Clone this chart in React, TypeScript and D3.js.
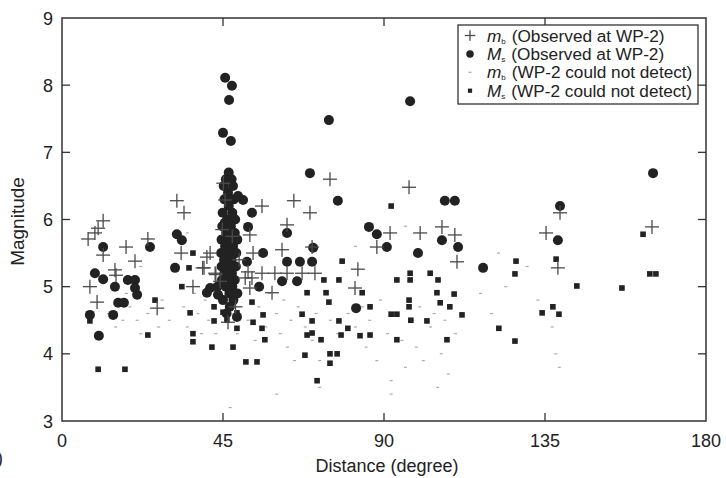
import React from "react";
import * as d3 from "d3";

const xTicks = [0, 45, 90, 135, 180];
const yTicks = [3, 4, 5, 6, 7, 8, 9];

// m_b observed at WP-2 (distance deg, magnitude)
const mbObserved: [number, number][] = [
  [7.3, 5.71], [9.2, 5.8], [10.1, 5.87], [11.5, 5.98], [32.1, 6.28], [34.1, 6.1],
  [17.9, 5.59], [24.0, 5.71], [20.4, 5.38], [14.8, 5.25], [15.1, 5.17], [7.8, 5.0],
  [9.8, 4.77], [26.6, 4.68], [36.6, 5.0], [33.3, 5.5], [39.7, 5.28], [41.4, 5.5],
  [42.8, 5.2], [11.5, 5.47], [55.9, 6.2], [64.8, 6.28], [69.3, 6.1], [62.9, 5.92],
  [53.4, 5.5], [61.5, 5.55], [69.9, 5.59], [52.0, 5.22], [55.9, 5.2], [59.5, 5.2],
  [58.7, 4.91], [62.9, 5.2], [67.1, 5.2], [70.7, 5.2], [74.9, 6.6], [97.0, 6.48],
  [91.7, 5.8], [88.0, 5.59], [100.1, 5.8], [106.2, 5.89], [109.8, 5.77], [110.4, 5.37],
  [82.7, 5.26], [81.9, 4.98], [139.2, 6.1], [135.3, 5.8], [164.9, 5.89], [138.6, 5.28],
  [45.1, 6.54], [40.5, 5.44], [39.3, 5.28], [52.5, 5.77], [51.2, 5.13], [53.1, 5.13],
  [52.5, 4.98], [43.0, 5.18], [46.4, 4.47], [45.6, 6.29], [47.6, 5.75], [44.8, 5.85],
  [49.5, 5.4], [44.2, 5.08], [48.5, 4.7],
];

// M_s observed at WP-2
const msObserved: [number, number][] = [
  [11.5, 5.59], [24.6, 5.59], [9.2, 5.2], [11.5, 5.11], [14.8, 5.0], [18.4, 5.1],
  [20.4, 5.1], [21.0, 4.88], [20.4, 4.98], [15.7, 4.76], [17.3, 4.76], [7.8, 4.58],
  [14.3, 4.58], [10.3, 4.27], [32.1, 5.78], [33.5, 5.69], [31.6, 5.28], [40.5, 4.91],
  [41.4, 4.98], [45.6, 8.11], [47.5, 7.99], [46.7, 7.78], [45.0, 7.29], [47.2, 7.17],
  [69.3, 6.69], [50.6, 6.29], [53.1, 6.1], [52.0, 5.89], [62.9, 5.8], [56.2, 5.5],
  [51.7, 5.37], [62.9, 5.37], [66.5, 5.37], [69.9, 5.37], [61.5, 5.08], [65.7, 5.08],
  [55.1, 5.0], [97.3, 7.76], [74.6, 7.48], [77.1, 6.28], [107.0, 6.28], [109.8, 6.28],
  [85.8, 5.89], [88.0, 5.78], [90.8, 5.59], [99.5, 5.5], [106.2, 5.69], [110.7, 5.59],
  [70.2, 5.58], [82.2, 4.68], [165.2, 6.69], [139.2, 6.2], [138.6, 5.69], [117.7, 5.28],
  [46.6, 6.7], [45.8, 6.6], [47.4, 6.6], [45.2, 6.5], [47.8, 6.5], [46.4, 6.4],
  [45.4, 6.3], [48.0, 6.3], [46.6, 6.2], [44.9, 6.1], [47.6, 6.1], [46.2, 6.0],
  [48.4, 6.0], [44.8, 5.9], [47.2, 5.9], [45.9, 5.8], [48.3, 5.8], [44.6, 5.7],
  [46.9, 5.7], [49.0, 5.7], [45.6, 5.6], [47.8, 5.6], [46.4, 5.5], [48.7, 5.5],
  [44.5, 5.5], [45.3, 5.4], [47.4, 5.4], [46.2, 5.3], [48.6, 5.3], [44.6, 5.3],
  [45.4, 5.2], [47.5, 5.2], [46.3, 5.1], [48.3, 5.1], [44.7, 5.1], [45.8, 5.0],
  [47.6, 5.0], [46.8, 4.9], [49.0, 4.9], [45.0, 4.8], [47.9, 4.8], [46.9, 4.7],
  [46.0, 4.6], [43.4, 5.0], [43.6, 4.88], [45.5, 5.95], [47.0, 5.45], [46.5, 5.05],
  [49.2, 6.35], [48.9, 4.55],
];

// m_b, WP-2 could not detect
const mbMissed: [number, number][] = [
  [13, 4.6], [15, 4.4], [17, 4.5], [19, 4.7], [21, 4.5], [22, 4.3], [18, 4.9], [24, 4.6],
  [27, 4.4], [28, 4.8], [30, 4.5], [34, 4.7], [35, 4.4], [37, 4.9], [38, 4.6], [39, 4.3],
  [40, 4.8], [41, 4.5], [43, 4.3], [44, 4.9], [49, 4.3], [50, 4.9], [52, 4.5], [54, 4.2],
  [55, 4.7], [57, 4.4], [58, 4.9], [60, 4.6], [61, 4.3], [62, 4.8], [63, 4.1], [64, 4.5],
  [65, 3.9], [66, 4.7], [68, 4.4], [70, 4.2], [71, 4.6], [72, 3.9], [75, 4.5], [77, 4.3],
  [80, 4.6], [82, 4.4], [84, 4.7], [85, 4.1], [86, 4.5], [88, 3.9], [89, 4.8], [91, 4.3],
  [92, 3.6], [94, 4.6], [95, 4.2], [96, 3.8], [98, 4.5], [99, 4.1], [100, 4.7], [101, 3.9],
  [103, 4.4], [104, 4.6], [106, 4.0], [107, 4.5], [108, 3.7], [110, 4.3], [112, 4.6],
  [117, 4.9], [120, 4.6], [124, 5.0], [133, 4.8], [137, 4.4], [138, 4.0], [139, 3.8],
  [47, 3.2], [60, 3.4], [72, 3.5], [92, 3.4], [105, 3.5], [22, 5.3], [35, 5.8], [82, 5.6],
  [96, 5.9], [122, 5.5], [130, 5.3],
];

// M_s, WP-2 could not detect
const msMissed: [number, number][] = [
  [7.8, 4.49], [24.0, 4.28], [26.0, 4.8], [10.1, 3.77], [17.6, 3.77], [36.6, 5.5],
  [35.5, 5.28], [33.5, 5.0], [35.8, 4.61], [36.6, 4.3], [36.6, 4.18], [41.9, 4.1],
  [42.5, 4.7], [42.5, 4.49], [45.0, 4.62], [68.5, 4.91], [53.1, 4.77], [56.2, 4.58],
  [48.9, 4.61], [46.1, 4.5], [53.4, 4.47], [48.9, 4.38], [55.9, 4.38], [67.1, 4.59],
  [68.5, 4.28], [69.9, 4.31], [56.7, 4.21], [47.8, 4.1], [67.9, 3.98], [51.4, 3.88],
  [54.5, 3.88], [71.3, 3.6], [92.0, 6.2], [78.3, 5.38], [73.2, 5.1], [77.4, 5.1],
  [73.8, 4.91], [74.6, 4.77], [83.9, 4.91], [86.1, 4.7], [93.6, 5.1], [97.3, 5.2],
  [97.3, 5.1], [102.9, 5.2], [105.1, 5.1], [104.8, 4.91], [109.6, 4.89], [105.7, 4.76],
  [108.4, 4.7], [97.0, 4.8], [97.0, 4.7], [92.0, 4.59], [93.6, 4.59], [97.5, 4.5],
  [102.0, 4.49], [111.8, 4.58], [69.9, 4.49], [77.4, 4.49], [79.9, 4.38], [78.0, 4.28],
  [83.3, 4.27], [86.1, 4.28], [72.4, 4.21], [93.6, 4.21], [107.6, 4.21], [74.9, 4.0],
  [76.9, 4.0], [74.9, 3.86], [162.4, 5.78], [164.3, 5.19], [166.0, 5.19], [126.9, 5.38],
  [126.6, 5.19], [138.1, 5.41], [143.9, 5.01], [156.5, 4.98], [137.2, 4.7], [134.2, 4.61],
  [138.9, 4.59], [122.1, 4.38], [126.6, 4.19],
];

const W = 726;
const H = 478;
const L = 62, R = 706, T = 18, B = 421;
const FONT = "'Liberation Sans', Arial, sans-serif";
const INK = "#222";

export default function App() {
  const x = d3.scaleLinear().domain([0, 180]).range([L, R]);
  const y = d3.scaleLinear().domain([3, 9]).range([B, T]);
  const tick = 8;

  const legendItems = [
    { sym: "plus", main: "m", sub: "b", text: "(Observed at WP-2)" },
    { sym: "circle", main: "M", sub: "s", text: "(Observed at WP-2)" },
    { sym: "dash", main: "m", sub: "b", text: "(WP-2 could not detect)" },
    { sym: "square", main: "M", sub: "s", text: "(WP-2 could not detect)" },
  ];

  const drawSym = (sym: string, cx: number, cy: number, key: string, s = 1) => {
    if (sym === "plus")
      return (
        <g key={key} stroke="#4a4a4a" strokeWidth={1.3}>
          <line x1={cx - 7 * s} x2={cx + 7 * s} y1={cy} y2={cy} />
          <line x1={cx} x2={cx} y1={cy - 7 * s} y2={cy + 7 * s} />
        </g>
      );
    if (sym === "circle") return <circle key={key} cx={cx} cy={cy} r={5 * s} fill={INK} />;
    if (sym === "square")
      return <rect key={key} x={cx - 2.8 * s} y={cy - 2.8 * s} width={5.6 * s} height={5.6 * s} fill={INK} />;
    return <rect key={key} x={cx - 1.5} y={cy - 0.6} width={3} height={1.2} fill="#aaa" />;
  };

  return (
    <svg
      width={W}
      height={H}
      style={{ position: "absolute", left: 0, top: 0, background: "#fff" }}
      fontFamily={FONT}
    >
      <rect x={0} y={0} width={W} height={H} fill="#fff" />
      {/* data */}
      {mbMissed.map((d, i) => drawSym("dash", x(d[0]), y(d[1]), "a" + i))}
      {msMissed.map((d, i) => drawSym("square", x(d[0]), y(d[1]), "b" + i))}
      {msObserved.map((d, i) => drawSym("circle", x(d[0]), y(d[1]), "c" + i))}
      {mbObserved.map((d, i) => drawSym("plus", x(d[0]), y(d[1]), "d" + i))}

      {/* frame */}
      <rect x={L} y={T} width={R - L} height={B - T} fill="none" stroke="#333" strokeWidth={1.5} />
      {xTicks.slice(1, -1).map((t) => (
        <g key={"xt" + t} stroke="#333" strokeWidth={1.3}>
          <line x1={x(t)} x2={x(t)} y1={B} y2={B - tick} />
          <line x1={x(t)} x2={x(t)} y1={T} y2={T + tick} />
        </g>
      ))}
      {yTicks.slice(1, -1).map((t) => (
        <g key={"yt" + t} stroke="#333" strokeWidth={1.3}>
          <line x1={L} x2={L + tick} y1={y(t)} y2={y(t)} />
          <line x1={R} x2={R - tick} y1={y(t)} y2={y(t)} />
        </g>
      ))}
      {xTicks.map((t) => (
        <text key={"xl" + t} x={x(t)} y={447} textAnchor="middle" fontSize={18} fill="#222">
          {t}
        </text>
      ))}
      {yTicks.map((t) => (
        <text key={"yl" + t} x={53} y={y(t) + 6.5} textAnchor="end" fontSize={18} fill="#222">
          {t}
        </text>
      ))}
      <text x={387} y={472} textAnchor="middle" fontSize={18} fill="#222">
        Distance (degree)
      </text>
      <text
        transform={`translate(24,${(T + B) / 2 + 2}) rotate(-90)`}
        textAnchor="middle"
        fontSize={19}
        fill="#222"
      >
        Magnitude
      </text>
      <text x={-3} y={464} fontSize={18} fill="#222">)</text>

      {/* legend */}
      <rect x={458} y={25} width={240} height={79} fill="#fff" stroke="#333" strokeWidth={1.3} />
      {legendItems.map((it, i) => {
        const cy = 35.5 + i * 18.4;
        return (
          <g key={"lg" + i}>
            {drawSym(it.sym, 470, cy, "ls" + i, 0.75)}
            <text x={487} y={cy + 6} fontSize={17.2} fill="#222">
              <tspan fontStyle="italic">{it.main}</tspan>
              <tspan fontSize={8} dy={2}>{it.sub}</tspan>
              <tspan dx={6} dy={-2}>{it.text}</tspan>
            </text>
          </g>
        );
      })}
    </svg>
  );
}
